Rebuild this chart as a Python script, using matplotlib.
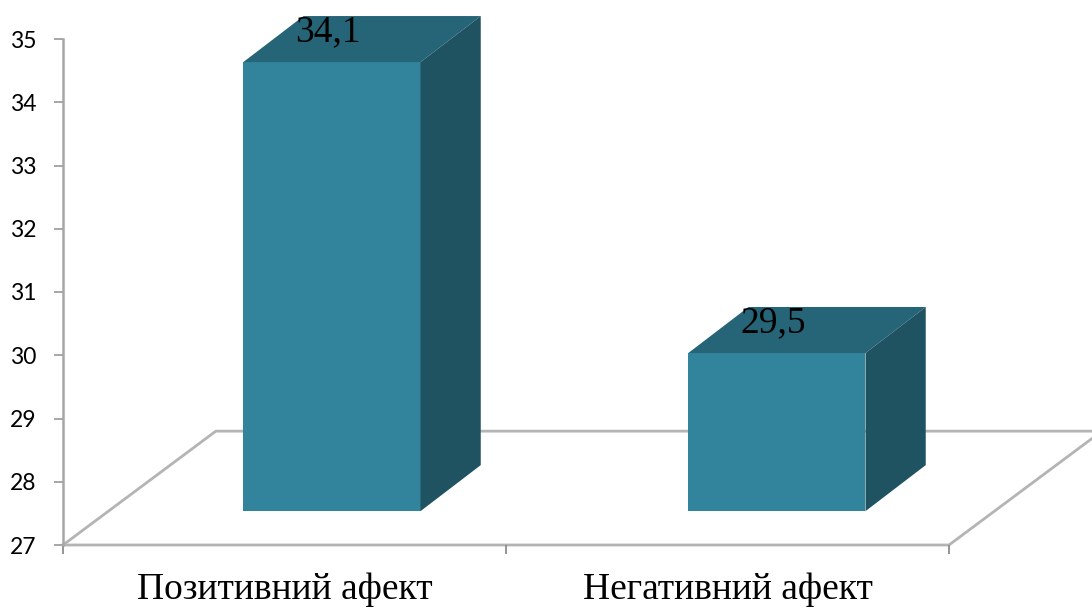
import matplotlib
matplotlib.use("Agg")
import matplotlib.pyplot as plt
from matplotlib.patches import Polygon

categories = ["Позитивний афект", "Негативний афект"]
values = [34.1, 29.5]
value_labels = ["34,1", "29,5"]
y_ticks = [27, 28, 29, 30, 31, 32, 33, 34, 35]

W, H = 1092, 608
FRONT, TOP, SIDE = "#31849B", "#256577", "#1F5362"
AXIS_GRAY, FLOOR_GRAY = "#A6A6A6", "#B4B4B4"

# Pseudo-3D geometry, in data units
BAR_WIDTH = 0.40
BAR_SHIFT = 0.107
BAR_STEP_EXTRA = 0.0045
BAR_LIFT = 0.535
BAR_DX, BAR_DY = 0.136, 0.728
FLOOR_DX, FLOOR_DY = 0.345, 1.80

fig = plt.figure(figsize=(W / 100, H / 100), dpi=100)
ax = fig.add_axes([63 / W, 1 - 545 / H, (949 - 63) / W, (545 - 39) / H])
ax.set_xlim(0, 2)
ax.set_ylim(27, 35)
ax.patch.set_alpha(0)

for side in ("top", "right", "bottom"):
    ax.spines[side].set_visible(False)
ax.spines["left"].set_color(AXIS_GRAY)
ax.spines["left"].set_linewidth(1.8)

# Floor plane
ax.plot([0, FLOOR_DX, 2 + FLOOR_DX], [27, 27 + FLOOR_DY, 27 + FLOOR_DY],
        color=FLOOR_GRAY, lw=2.0, clip_on=False, zorder=1)
ax.plot([0, 2, 2 + FLOOR_DX], [27, 27, 27 + FLOOR_DY],
        color=FLOOR_GRAY, lw=2.0, clip_on=False, zorder=1)

# Bars: front face from the library, top and side faces as polygons
base = 27 + BAR_LIFT
for i, (value, text) in enumerate(zip(values, value_labels)):
    centre = i + 0.5 + BAR_SHIFT + i * BAR_STEP_EXTRA
    left = centre - BAR_WIDTH / 2
    right = centre + BAR_WIDTH / 2
    top = base + value - 27
    ax.bar(centre, value - 27, BAR_WIDTH, bottom=base, color=FRONT,
           clip_on=False, zorder=3)
    ax.add_patch(Polygon([(left, top), (right, top),
                          (right + BAR_DX, top + BAR_DY), (left + BAR_DX, top + BAR_DY)],
                         closed=True, facecolor=TOP, edgecolor="none",
                         clip_on=False, zorder=3))
    ax.add_patch(Polygon([(right, base), (right + BAR_DX, base + BAR_DY),
                          (right + BAR_DX, top + BAR_DY), (right, top)],
                         closed=True, facecolor=SIDE, edgecolor="none",
                         clip_on=False, zorder=3))
    ax.annotate(text, xy=(centre, top), xytext=(-3, 14.8), textcoords="offset points",
                ha="center", va="baseline", fontsize=27,
                family="Liberation Serif", color="black", zorder=4)

ax.set_yticks(y_ticks)
ax.tick_params(axis="y", length=6.5, width=1.4, color=AXIS_GRAY, pad=12.5,
               labelsize=16.5, labelfontfamily="Lato")

ax.set_xticks([0, 1, 2])
ax.set_xticklabels([])
ax.tick_params(axis="x", which="major", length=6.5, width=1.3, color="#8C8C8C")
ax.set_xticks([0.5, 1.5], minor=True)
ax.set_xticklabels(categories, minor=True, fontsize=27, family="Liberation Serif")
ax.tick_params(axis="x", which="minor", length=0, pad=20)

fig.savefig("out.png", dpi=100)
